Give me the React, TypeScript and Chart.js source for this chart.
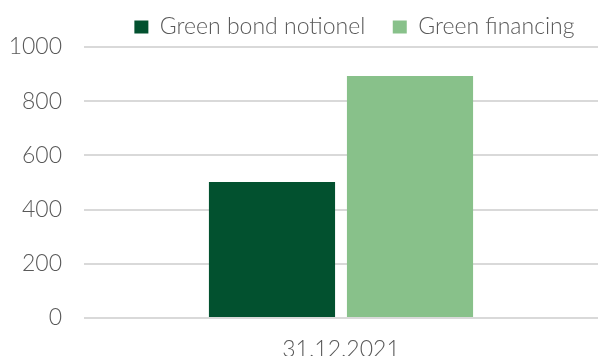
import React, { useEffect, useRef } from "react";
import { Chart, registerables } from "chart.js";

Chart.register(...registerables);

// ---- data ----
const categories: string[] = ["31.12.2021"];
const seriesNames: string[] = ["Green bond notionel", "Green financing"];
const greenBondNotionel: number[] = [502];
const greenFinancing: number[] = [893];
const yTickValues: number[] = [0, 200, 400, 600, 800, 1000];

const seriesColors: string[] = ["#02512F", "#88C18A"];

const W = 598;
const H = 380;
const FONT = { family: "Lato", size: 23, weight: "300" as any };

export default function App() {
  const ref = useRef<HTMLCanvasElement | null>(null);

  useEffect(() => {
    if (!ref.current) return;
    const chart = new Chart(ref.current, {
      type: "bar",
      data: {
        labels: categories,
        datasets: [
          {
            label: seriesNames[0],
            data: greenBondNotionel,
            backgroundColor: seriesColors[0],
            categoryPercentage: 0.537,
            barPercentage: 0.914,
          },
          {
            label: seriesNames[1],
            data: greenFinancing,
            backgroundColor: seriesColors[1],
            categoryPercentage: 0.537,
            barPercentage: 0.914,
          },
        ],
      },
      options: {
        responsive: false,
        animation: false,
        events: [],
        font: FONT,
        color: "#595959",
        layout: { padding: { top: -12, left: 0, right: -4, bottom: 0 } },
        plugins: {
          tooltip: { enabled: false },
          legend: {
            position: "top",
            align: "end",
            maxHeight: 59,
            labels: {
              boxWidth: 14,
              boxHeight: 13,
              padding: 27.5,
              color: "#595959",
              font: FONT,
            },
          },
        },
        scales: {
          x: {
            grid: { display: false },
            border: { display: false },
            ticks: {
              color: "#595959",
              font: FONT,
              padding: 10,
            },
            afterFit: (s: any) => {
              s.height = H - 318;
            },
          },
          y: {
            min: 0,
            max: 1000,
            afterBuildTicks: (s: any) => {
              s.ticks = yTickValues.map((v) => ({ value: v }));
            },
            grid: { color: "#D9D9D9", lineWidth: 2, drawTicks: false },
            border: { display: false },
            ticks: {
              color: "#595959",
              font: FONT,
              padding: 22,
              callback: (v: any) => String(v),
            },
            afterFit: (s: any) => {
              s.width = 84;
            },
          },
        },
      },
    });
    return () => chart.destroy();
  }, []);

  return (
    <div
      style={{
        position: "fixed",
        left: 0,
        top: 0,
        width: W,
        height: 356,
        overflow: "hidden",
        background: "#ffffff",
      }}
    >
      <canvas ref={ref} width={W} height={H} style={{ display: "block" }} />
    </div>
  );
}
